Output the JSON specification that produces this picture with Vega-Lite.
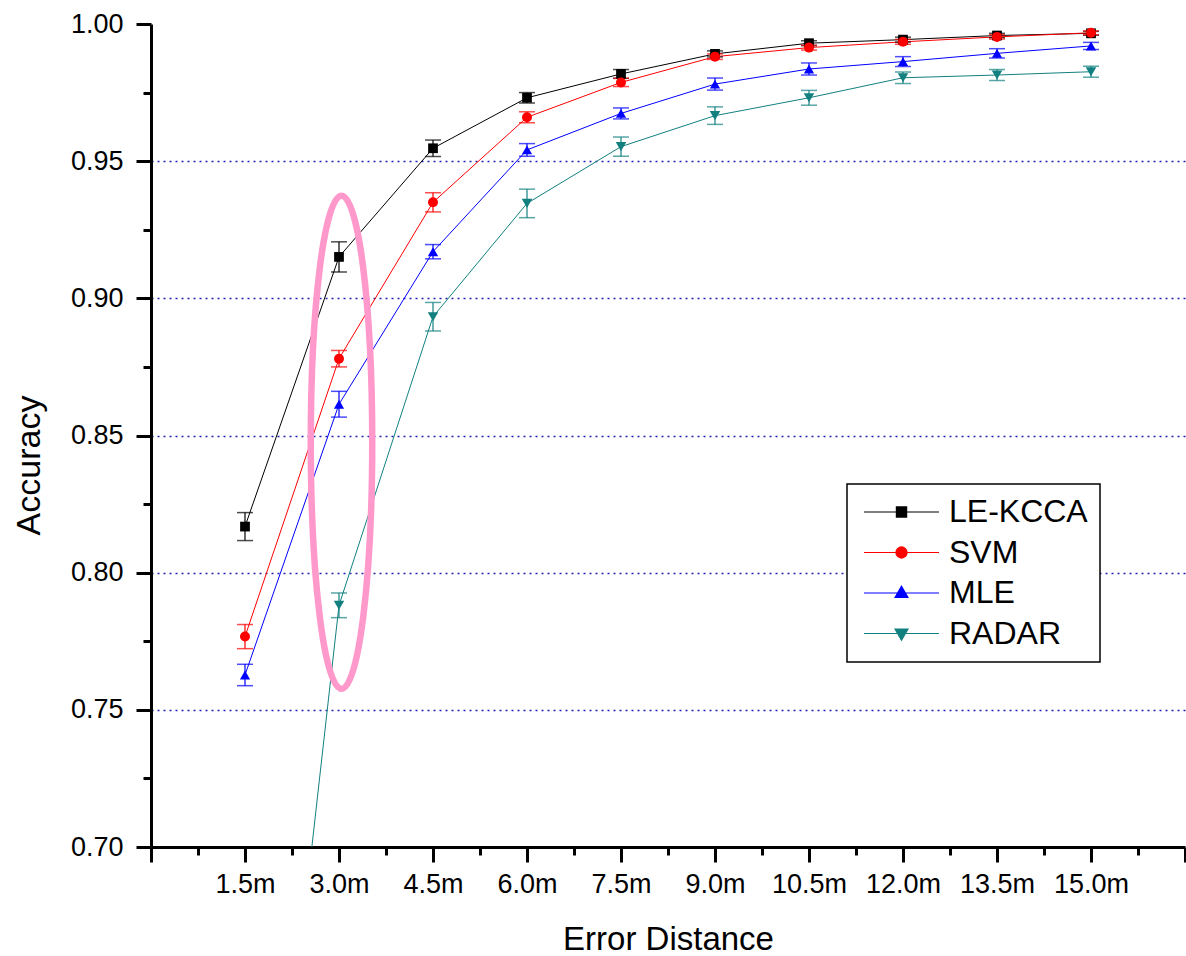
{
  "$schema": "https://vega.github.io/schema/vega-lite/v6.json",
  "width": 1034,
  "height": 823,
  "autosize": {"type": "none"},
  "padding": {"left": 151, "top": 24, "right": 1, "bottom": 109},
  "background": "white",
  "config": {"view": {"stroke": null}, "font": "Liberation Sans"},
  "datasets": {
    "acc": [
      {"method": "LE-KCCA", "dist": 1.5, "acc": 0.8168, "lo": 0.8117, "hi": 0.8219},
      {"method": "LE-KCCA", "dist": 3.0, "acc": 0.9151, "lo": 0.9096, "hi": 0.9206},
      {"method": "LE-KCCA", "dist": 4.5, "acc": 0.9547, "lo": 0.9517, "hi": 0.9577},
      {"method": "LE-KCCA", "dist": 6.0, "acc": 0.9731, "lo": 0.9712, "hi": 0.9750},
      {"method": "LE-KCCA", "dist": 7.5, "acc": 0.9818, "lo": 0.9802, "hi": 0.9834},
      {"method": "LE-KCCA", "dist": 9.0, "acc": 0.9891, "lo": 0.9880, "hi": 0.9902},
      {"method": "LE-KCCA", "dist": 10.5, "acc": 0.9930, "lo": 0.9921, "hi": 0.9939},
      {"method": "LE-KCCA", "dist": 12.0, "acc": 0.9943, "lo": 0.9934, "hi": 0.9952},
      {"method": "LE-KCCA", "dist": 13.5, "acc": 0.9958, "lo": 0.9950, "hi": 0.9966},
      {"method": "LE-KCCA", "dist": 15.0, "acc": 0.9966, "lo": 0.9959, "hi": 0.9973},
      {"method": "SVM", "dist": 1.5, "acc": 0.7767, "lo": 0.7723, "hi": 0.7811},
      {"method": "SVM", "dist": 3.0, "acc": 0.8780, "lo": 0.8750, "hi": 0.8810},
      {"method": "SVM", "dist": 4.5, "acc": 0.9350, "lo": 0.9315, "hi": 0.9385},
      {"method": "SVM", "dist": 6.0, "acc": 0.9660, "lo": 0.9640, "hi": 0.9680},
      {"method": "SVM", "dist": 7.5, "acc": 0.9787, "lo": 0.9772, "hi": 0.9802},
      {"method": "SVM", "dist": 9.0, "acc": 0.9881, "lo": 0.9871, "hi": 0.9891},
      {"method": "SVM", "dist": 10.5, "acc": 0.9914, "lo": 0.9905, "hi": 0.9923},
      {"method": "SVM", "dist": 12.0, "acc": 0.9935, "lo": 0.9926, "hi": 0.9944},
      {"method": "SVM", "dist": 13.5, "acc": 0.9953, "lo": 0.9945, "hi": 0.9961},
      {"method": "SVM", "dist": 15.0, "acc": 0.9968, "lo": 0.9961, "hi": 0.9975},
      {"method": "MLE", "dist": 1.5, "acc": 0.7627, "lo": 0.7588, "hi": 0.7666},
      {"method": "MLE", "dist": 3.0, "acc": 0.8614, "lo": 0.8567, "hi": 0.8661},
      {"method": "MLE", "dist": 4.5, "acc": 0.9170, "lo": 0.9144, "hi": 0.9196},
      {"method": "MLE", "dist": 6.0, "acc": 0.9541, "lo": 0.9518, "hi": 0.9564},
      {"method": "MLE", "dist": 7.5, "acc": 0.9674, "lo": 0.9654, "hi": 0.9694},
      {"method": "MLE", "dist": 9.0, "acc": 0.9781, "lo": 0.9759, "hi": 0.9803},
      {"method": "MLE", "dist": 10.5, "acc": 0.9836, "lo": 0.9814, "hi": 0.9858},
      {"method": "MLE", "dist": 12.0, "acc": 0.9863, "lo": 0.9845, "hi": 0.9881},
      {"method": "MLE", "dist": 13.5, "acc": 0.9893, "lo": 0.9876, "hi": 0.9910},
      {"method": "MLE", "dist": 15.0, "acc": 0.9920, "lo": 0.9907, "hi": 0.9933},
      {"method": "RADAR", "dist": 1.5, "acc": 0.4830, "lo": 0.4790, "hi": 0.4870},
      {"method": "RADAR", "dist": 3.0, "acc": 0.7881, "lo": 0.7836, "hi": 0.7926},
      {"method": "RADAR", "dist": 4.5, "acc": 0.8933, "lo": 0.8881, "hi": 0.8985},
      {"method": "RADAR", "dist": 6.0, "acc": 0.9346, "lo": 0.9294, "hi": 0.9398},
      {"method": "RADAR", "dist": 7.5, "acc": 0.9553, "lo": 0.9518, "hi": 0.9588},
      {"method": "RADAR", "dist": 9.0, "acc": 0.9666, "lo": 0.9634, "hi": 0.9698},
      {"method": "RADAR", "dist": 10.5, "acc": 0.9731, "lo": 0.9704, "hi": 0.9758},
      {"method": "RADAR", "dist": 12.0, "acc": 0.9804, "lo": 0.9783, "hi": 0.9825},
      {"method": "RADAR", "dist": 13.5, "acc": 0.9814, "lo": 0.9794, "hi": 0.9834},
      {"method": "RADAR", "dist": 15.0, "acc": 0.9826, "lo": 0.9806, "hi": 0.9846}
    ],
    "highlight": [{"dist": 3.04, "acc": 0.8475}]
  },
  "data": {"name": "acc"},
  "resolve": {"scale": {"shape": "independent", "size": "independent"}},
  "encoding": {
    "x": {
      "field": "dist", "type": "quantitative",
      "scale": {"domain": [0, 16.5], "nice": false, "zero": false},
      "axis": {
        "values": [0, 0.75, 1.5, 2.25, 3, 3.75, 4.5, 5.25, 6, 6.75, 7.5, 8.25, 9, 9.75, 10.5, 11.25, 12, 12.75, 13.5, 14.25, 15, 15.75, 16.5],
        "labelExpr": "(abs(datum.value/1.5 - round(datum.value/1.5)) < 0.01 && datum.value > 1 && datum.value < 16) ? format(datum.value, '.1f') + 'm' : ''",
        "tickSize": {"condition": {"test": "abs(datum.value/1.5 - round(datum.value/1.5)) < 0.01", "value": 15}, "value": 8},
        "tickWidth": 3, "tickColor": "black",
        "domainColor": "black", "domainWidth": 3,
        "grid": false,
        "labelFontSize": 27, "labelFont": "Liberation Sans", "labelColor": "black",
        "labelPadding": 9, "labelFlush": false, "labelOverlap": false,
        "title": "Error Distance",
        "titleFontSize": 33, "titleFont": "Liberation Sans", "titleFontWeight": "normal", "titleColor": "black",
        "titleX": 517, "titleY": 102, "titleBaseline": "alphabetic", "titleAlign": "center"
      }
    },
    "y": {
      "field": "acc", "type": "quantitative",
      "scale": {"domain": [0.7, 1.0], "nice": false, "zero": false},
      "axis": {
        "values": [0.7, 0.725, 0.75, 0.775, 0.8, 0.825, 0.85, 0.875, 0.9, 0.925, 0.95, 0.975, 1.0],
        "labelExpr": "abs(datum.value*20 - round(datum.value*20)) < 0.01 ? format(datum.value, '.2f') : ''",
        "tickSize": {"condition": {"test": "abs(datum.value*20 - round(datum.value*20)) < 0.01", "value": 15}, "value": 8},
        "tickWidth": 3, "tickColor": "black",
        "domainColor": "black", "domainWidth": 3,
        "grid": true,
        "gridOpacity": {"condition": {"test": "abs(datum.value*20 - round(datum.value*20)) < 0.01 && datum.value > 0.71 && datum.value < 0.99", "value": 1}, "value": 0},
        "gridColor": "#2020b0", "gridDash": [2, 4], "gridWidth": 1.5,
        "labelFontSize": 27, "labelFont": "Liberation Sans", "labelColor": "black",
        "labelPadding": 13, "labelFlush": false, "labelOverlap": false,
        "title": "Accuracy",
        "titleFontSize": 34, "titleFont": "Liberation Sans", "titleFontWeight": "normal", "titleColor": "black",
        "titleX": -122, "titleY": 441, "titleBaseline": "middle", "titleAlign": "center", "titleAngle": -90
      }
    }
  },
  "layer": [
    {
      "mark": {"type": "line", "strokeWidth": 1, "clip": true},
      "encoding": {
        "color": {
          "field": "method", "type": "nominal",
          "scale": {"domain": ["LE-KCCA", "SVM", "MLE", "RADAR"], "range": ["#000000", "#ff0000", "#0000ff", "#138080"]},
          "legend": {
            "orient": "none", "legendX": 696, "legendY": 460, "title": null,
            "labelFontSize": 32, "labelFont": "Liberation Sans", "labelColor": "black",
            "symbolSize": 900, "symbolStrokeWidth": 1.2,
            "strokeColor": "black", "fillColor": "white", "padding": 12,
            "rowPadding": 8.5, "labelOffset": 58,
            "encode": {
              "legend": {"update": {"strokeWidth": {"value": 1.5}}},
              "symbols": {"update": {
                "shape": {"signal": "datum.value === 'LE-KCCA' ? 'M -0.733 0 L 4.267 0 M 1.427 -0.34 L 2.107 -0.34 L 2.107 0.34 L 1.427 0.34 Z' : datum.value === 'SVM' ? 'M -0.733 0 L 4.267 0 M 2.137 0 A 0.37 0.37 0 1 1 1.397 0 A 0.37 0.37 0 1 1 2.137 0 Z' : datum.value === 'MLE' ? 'M -0.733 0 L 4.267 0 M 1.767 -0.45 L 2.197 0.3 L 1.337 0.3 Z' : 'M -0.733 0 L 4.267 0 M 1.767 0.45 L 2.197 -0.3 L 1.337 -0.3 Z'"},
                "fill": {"scale": "color", "field": "value"},
                "stroke": {"scale": "color", "field": "value"},
                "fillOpacity": {"value": 1},
                "strokeOpacity": {"value": 1}
              }}
            }
          }
        },
        "order": {"field": "dist", "type": "quantitative"}
      }
    },
    {
      "mark": {"type": "rule", "strokeWidth": 1.2, "clip": true},
      "encoding": {
        "y": {"field": "lo", "type": "quantitative"},
        "y2": {"field": "hi"},
        "color": {"field": "method", "type": "nominal", "legend": null}
      }
    },
    {
      "mark": {"type": "tick", "orient": "horizontal", "size": 16, "thickness": 1.5, "clip": true},
      "encoding": {
        "y": {"field": "lo", "type": "quantitative"},
        "color": {"field": "method", "type": "nominal", "legend": null}
      }
    },
    {
      "mark": {"type": "tick", "orient": "horizontal", "size": 16, "thickness": 1.5, "clip": true},
      "encoding": {
        "y": {"field": "hi", "type": "quantitative"},
        "color": {"field": "method", "type": "nominal", "legend": null}
      }
    },
    {
      "mark": {"type": "point", "filled": true, "opacity": 1, "clip": true},
      "encoding": {
        "color": {"field": "method", "type": "nominal", "legend": null},
        "shape": {
          "field": "method", "type": "nominal",
          "scale": {"domain": ["LE-KCCA", "SVM", "MLE", "RADAR"], "range": ["square", "circle", "triangle-up", "triangle-down"]},
          "legend": null
        },
        "size": {
          "field": "method", "type": "nominal",
          "scale": {"domain": ["LE-KCCA", "SVM", "MLE", "RADAR"], "range": [95, 110, 150, 150]},
          "legend": null
        }
      }
    },
    {
      "data": {"name": "highlight"},
      "mark": {
        "type": "point", "filled": false, "stroke": "#ff99cc", "strokeWidth": 6.5, "opacity": 1,
        "shape": "M -0.1247 0 A 0.1247 1 0 1 0 0.1247 0 A 0.1247 1 0 1 0 -0.1247 0 Z",
        "size": 243049
      },
      "encoding": {}
    }
  ]
}
